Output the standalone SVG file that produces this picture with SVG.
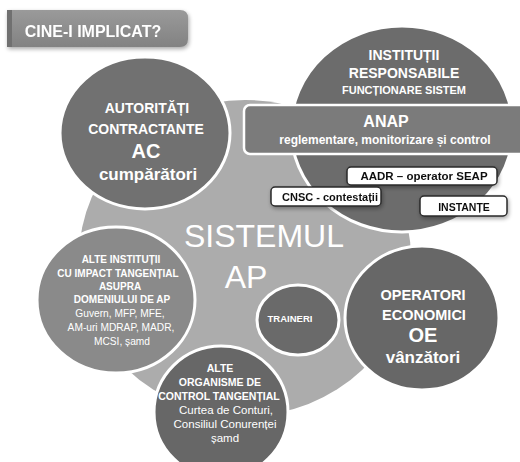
<svg xmlns="http://www.w3.org/2000/svg" width="520" height="462" viewBox="0 0 520 462">
  <defs>
    <style>
      text { font-family: "Liberation Sans", Arial, sans-serif; fill: #ffffff; text-anchor: middle; }
      .b { font-weight: bold; }
      .disc { stroke: #ffffff; stroke-width: 3; }
      .dark { fill: #6a6a6a; }
      .tag { fill: #ffffff; stroke: #2a2a2a; stroke-width: 1.5; }
      .tagtxt { fill: #111111; font-weight: bold; }
    </style>
    <linearGradient id="tabFill" x1="0" y1="0" x2="0" y2="1">
      <stop offset="0" stop-color="#9a9a9a"/>
      <stop offset="1" stop-color="#828282"/>
    </linearGradient>
    <filter id="soft" x="-10%" y="-20%" width="120%" height="160%">
      <feGaussianBlur in="SourceAlpha" stdDeviation="2"/>
      <feOffset dx="1" dy="2"/>
      <feComponentTransfer><feFuncA type="linear" slope="0.35"/></feComponentTransfer>
      <feMerge><feMergeNode/><feMergeNode in="SourceGraphic"/></feMerge>
    </filter>
  </defs>

  <rect width="520" height="462" fill="#ffffff"/>

  <!-- heading tab -->
  <g id="title" filter="url(#soft)">
    <path d="M7 10 H180 Q188 10 188 18 V39 Q188 47 180 47 H7 Z" fill="url(#tabFill)"/>
    <rect x="7" y="10" width="5" height="37" fill="#707070"/>
    <text x="93" y="37" class="b" font-size="16" fill="#f2f2f2">CINE-I IMPLICAT?</text>
  </g>

  <!-- central system disc -->
  <g id="sistem">
    <ellipse cx="245" cy="258" rx="166" ry="158" fill="#acacac"/>
  </g>

  <!-- contracting authorities -->
  <g id="ac">
    <ellipse class="disc" cx="145" cy="133" rx="85" ry="76" fill="#717171"/>
    <text x="147" y="113" class="b" font-size="14">AUTORITĂȚI</text>
    <text x="146" y="134" class="b" font-size="14">CONTRACTANTE</text>
    <text x="146" y="158" class="b" font-size="20">AC</text>
    <text x="148" y="180" class="b" font-size="17">cumpărători</text>
  </g>

  <!-- responsible institutions -->
  <g id="institutii">
    <ellipse class="disc" cx="402" cy="129" rx="111" ry="103" fill="#6c6c6c"/>
    <text x="404" y="60" class="b" font-size="14">INSTITUȚII</text>
    <text x="404" y="78" class="b" font-size="14">RESPONSABILE</text>
    <text x="404" y="94" class="b" font-size="11">FUNCȚIONARE SISTEM</text>
  </g>

  <!-- ANAP band -->
  <g id="anap">
    <rect x="244" y="105" width="285" height="49" rx="6" fill="#7b7b7b" stroke="#ffffff" stroke-width="2.5"/>
    <text x="386" y="127" class="b" font-size="16">ANAP</text>
    <text x="385" y="144" class="b" font-size="12" fill="#f4f4f4">reglementare, monitorizare și control</text>
  </g>

  <g id="aadr" filter="url(#soft)">
    <rect class="tag" x="347" y="167" width="150" height="18" rx="4"/>
    <text class="tagtxt" x="424" y="180" font-size="11.5">AADR – operator SEAP</text>
  </g>

  <g id="cnsc" filter="url(#soft)">
    <rect class="tag" x="271" y="187" width="110" height="19" rx="4"/>
    <text class="tagtxt" x="330" y="201" font-size="11">CNSC - contestații</text>
  </g>

  <g id="instante" filter="url(#soft)">
    <rect class="tag" x="420" y="196" width="87" height="20" rx="4"/>
    <text class="tagtxt" x="464" y="211" font-size="10.5">INSTANȚE</text>
  </g>

  <!-- other institutions with tangential impact -->
  <g id="alte-institutii">
    <ellipse class="disc" cx="116" cy="300" rx="79" ry="73" fill="#8a8a8a"/>
    <text x="121" y="263" class="b" font-size="10">ALTE INSTITUȚII</text>
    <text x="118" y="277" class="b" font-size="10">CU IMPACT TANGENȚIAL</text>
    <text x="120" y="290" class="b" font-size="10">ASUPRA</text>
    <text x="122" y="303" class="b" font-size="10">DOMENIULUI DE AP</text>
    <text x="120" y="317" font-size="10.2">Guvern, MFP, MFE,</text>
    <text x="121" y="331" font-size="10.2">AM-uri MDRAP, MADR,</text>
    <text x="122" y="345" font-size="10.2">MCSI, șamd</text>
  </g>

  <!-- trainers -->
  <g id="traineri">
    <ellipse class="disc dark" cx="298" cy="320" rx="41" ry="35"/>
    <text x="290" y="322" class="b" font-size="9.5">TRAINERI</text>
  </g>

  <!-- economic operators -->
  <g id="oe">
    <ellipse class="disc" cx="422" cy="318" rx="77" ry="72" fill="#676767"/>
    <text x="423" y="300" class="b" font-size="14.5">OPERATORI</text>
    <text x="424" y="320" class="b" font-size="14.5">ECONOMICI</text>
    <text x="423" y="342" class="b" font-size="20">OE</text>
    <text x="423" y="363" class="b" font-size="17">vânzători</text>
  </g>

  <!-- other control bodies -->
  <g id="alte-organisme">
    <ellipse class="disc" cx="221" cy="412" rx="67" ry="66" fill="#676767"/>
    <text x="220" y="372" class="b" font-size="10.5">ALTE</text>
    <text x="220" y="386" class="b" font-size="10.5">ORGANISME DE</text>
    <text x="219" y="400" class="b" font-size="10.5">CONTROL TANGENȚIAL</text>
    <text x="226" y="414" font-size="11.5">Curtea de Conturi,</text>
    <text x="225" y="428" font-size="11.5">Consiliul Conurenței</text>
    <text x="225" y="442" font-size="11.5">șamd</text>
  </g>

  <!-- system label -->
  <g id="sistem-label">
    <text x="264" y="247" font-size="32">SISTEMUL</text>
    <text x="246" y="288" font-size="32">AP</text>
  </g>
</svg>
